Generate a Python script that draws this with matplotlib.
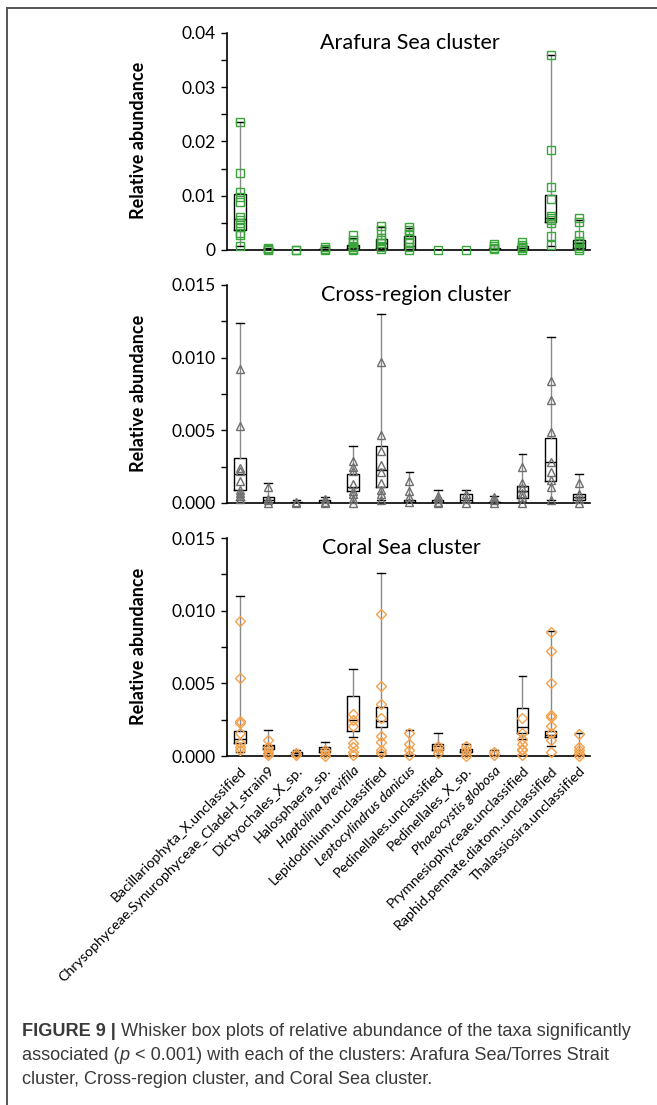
import matplotlib
matplotlib.use('Agg')
import matplotlib.pyplot as plt
from matplotlib.lines import Line2D
from matplotlib.ticker import MultipleLocator, FuncFormatter

taxa = ['Bacillariophyta_X.unclassified', 'Chrysophyceae.Synurophyceae_CladeH_strain9',
        'Dictyochales_X_sp.', 'Halosphaera_sp.', 'Haptolina brevifila',
        'Lepidodinium.unclassified', 'Leptocylindrus danicus', 'Pedinellales.unclassified',
        'Pedinellales_X_sp.', 'Phaeocystis globosa', 'Prymnesiophyceae.unclassified',
        'Raphid.pennate.diatom..unclassified', 'Thalassiosira.unclassified']
italic_taxa = ['Haptolina brevifila', 'Leptocylindrus danicus', 'Phaeocystis globosa']

# Arafura Sea cluster
ara_q1 = [0.0037, 0.0, 0.0, 0.0, 0.0004, 0.0004, 0.0001, 0.0, 0.0, 0.0, 0.0001, 0.0052, 0.0003]
ara_med = [0.0057, 0.0001, 0.0, 0.0001, 0.0007, 0.0013, 0.0007, 0.0, 0.0, 0.0002, 0.0004, 0.0058, 0.0012]
ara_q3 = [0.0103, 0.0002, 0.0, 0.0002, 0.0009, 0.0021, 0.0025, 0.0, 0.0, 0.0004, 0.0007, 0.0101, 0.0019]
ara_lo = [0.0007, 0.0, 0.0, 0.0, 0.0, 0.0001, 0.0, 0.0, 0.0, 0.0, 0.0, 0.0008, 0.0]
ara_hi = [0.0236, 0.0004, 0.0, 0.0005, 0.0022, 0.0042, 0.0040, 0.0, 0.0, 0.0009, 0.0012, 0.0360, 0.0056]
ara_pts = [[0.0236, 0.0141, 0.0106, 0.0098, 0.0088, 0.0060, 0.0055, 0.0049, 0.0043, 0.0031, 0.0028, 0.0007],
           [0.0004, 0.0002, 0.0001, 0.0],
           [0.0, 0.0],
           [0.0005, 0.0002, 0.0],
           [0.0028, 0.0018, 0.0012, 0.0008, 0.0005, 0.0002, 0.0],
           [0.0045, 0.0036, 0.0022, 0.0018, 0.0012, 0.0006, 0.0002],
           [0.0043, 0.0036, 0.0030, 0.0020, 0.0012, 0.0005, 0.0],
           [0.0],
           [0.0],
           [0.0011, 0.0007, 0.0004, 0.0001],
           [0.0014, 0.0010, 0.0006, 0.0003, 0.0],
           [0.0360, 0.0184, 0.0116, 0.0094, 0.0062, 0.0058, 0.0055, 0.0050, 0.0026, 0.0010],
           [0.0059, 0.0052, 0.0028, 0.0017, 0.0012, 0.0008, 0.0004, 0.0]]

# Cross-region cluster
cro_q1 = [0.00087, 0.0, 0.0, 0.0, 0.0008, 0.0011, 0.0, 0.0, 0.0, 0.0, 0.00035, 0.0015, 0.0002]
cro_med = [0.0020, 0.0002, 0.00003, 0.0001, 0.0011, 0.00225, 0.0001, 0.0001, 0.0002, 0.00005, 0.0008, 0.0028, 0.0004]
cro_q3 = [0.0031, 0.0004, 0.0001, 0.0002, 0.0020, 0.0039, 0.0002, 0.0002, 0.0006, 0.0001, 0.0012, 0.0045, 0.0006]
cro_lo = [0.0002, 0.0, 0.0, 0.0, 0.0, 0.0002, 0.0, 0.0, 0.0, 0.0, 0.0, 0.0002, 0.0]
cro_hi = [0.0124, 0.0014, 0.0002, 0.0004, 0.0039, 0.0130, 0.0021, 0.0009, 0.0009, 0.0005, 0.0034, 0.0114, 0.0020]
cro_pts = [[0.0092, 0.0053, 0.0024, 0.0022, 0.0015, 0.0009, 0.0007, 0.0005, 0.0003],
           [0.0011, 0.0003, 0.0002, 0.0],
           [0.0001, 0.0],
           [0.0003, 0.0001, 0.0],
           [0.0029, 0.0025, 0.0022, 0.0013, 0.0008, 0.0006, 0.0003, 0.0],
           [0.0097, 0.0047, 0.0036, 0.0026, 0.0021, 0.0014, 0.0009, 0.0006, 0.0002],
           [0.0015, 0.0008, 0.0004, 0.0001],
           [0.0005, 0.0003, 0.0001, 0.0],
           [0.0006, 0.0003, 0.0],
           [0.0004, 0.0002, 0.0],
           [0.0025, 0.0014, 0.0010, 0.0007, 0.0004, 0.0],
           [0.0084, 0.0071, 0.0049, 0.0028, 0.0021, 0.0016, 0.0011, 0.0002],
           [0.0014, 0.0006, 0.0003, 0.0]]

# Coral Sea cluster
cor_q1 = [0.00087, 0.00046, 0.0001, 0.0003, 0.0017, 0.0020, 0.0, 0.0004, 0.00025, 0.0, 0.0016, 0.0013, 0.0]
cor_med = [0.0012, 0.0007, 0.0002, 0.0005, 0.0025, 0.0024, 0.00003, 0.0007, 0.0004, 0.00002, 0.0020, 0.00145, 0.00005]
cor_q3 = [0.0017, 0.00076, 0.00025, 0.0006, 0.0041, 0.0034, 0.0001, 0.0008, 0.0005, 0.0001, 0.0033, 0.0017, 0.0001]
cor_lo = [0.0003, 0.0002, 0.0, 0.0, 0.0013, 0.0003, 0.0, 0.0001, 0.0, 0.0, 0.0012, 0.0007, 0.0]
cor_hi = [0.0110, 0.0018, 0.0004, 0.00095, 0.0060, 0.0126, 0.0018, 0.0016, 0.0008, 0.0004, 0.0055, 0.0086, 0.0016]
cor_pts = [[0.0093, 0.0054, 0.0024, 0.0023, 0.0016, 0.0009, 0.0006, 0.0004],
           [0.0011, 0.0006, 0.0004, 0.0002, 0.0001],
           [0.0002, 0.0001],
           [0.00045, 0.0002, 0.0],
           [0.0029, 0.0025, 0.0021, 0.0009, 0.0006, 0.0003, 0.0001],
           [0.0098, 0.0048, 0.0036, 0.0026, 0.0014, 0.0010, 0.0004, 0.0002],
           [0.0016, 0.0008, 0.0004, 0.0001],
           [0.0007, 0.0005, 0.0002],
           [0.0007, 0.0004, 0.0002, 0.0],
           [0.0003, 0.0001],
           [0.0026, 0.0016, 0.0012, 0.0008, 0.0005, 0.0004, 0.0001],
           [0.0085, 0.0072, 0.0050, 0.0028, 0.0027, 0.0021, 0.0016, 0.0011, 0.0003],
           [0.0015, 0.0006, 0.0004, 0.0002, 0.0]]

chart_font = ['Lato', 'DejaVu Sans']
plt.rcParams['font.family'] = chart_font

fig = plt.figure(figsize=(6.57, 11.05), dpi=100)

panels = [
    dict(title='Arafura Sea cluster', q1=ara_q1, med=ara_med, q3=ara_q3, lo=ara_lo, hi=ara_hi,
         pts=ara_pts, marker='s', color='#3aa53a', ymax=0.04, major=0.01, minor=0.005,
         fmt='%g', rect=[0.3455, 0.7738, 0.5525, 0.1964], tx=0.504, ty=0.955),
    dict(title='Cross-region cluster', q1=cro_q1, med=cro_med, q3=cro_q3, lo=cro_lo, hi=cro_hi,
         pts=cro_pts, marker='^', color='#6e6e6e', ymax=0.015, major=0.005, minor=0.0025,
         fmt='%.3f', rect=[0.3455, 0.5448, 0.5525, 0.1973], tx=0.52, ty=0.955),
    dict(title='Coral Sea cluster', q1=cor_q1, med=cor_med, q3=cor_q3, lo=cor_lo, hi=cor_hi,
         pts=cor_pts, marker='D', color='#f5a04a', ymax=0.015, major=0.005, minor=0.0025,
         fmt='%.3f', rect=[0.3455, 0.3158, 0.5525, 0.1973], tx=0.48, ty=0.955),
]

xs = list(range(len(taxa)))
for k, p in enumerate(panels):
    ax = fig.add_axes(p['rect'])
    stats = []
    for i in xs:
        stats.append(dict(med=p['med'][i], q1=p['q1'][i], q3=p['q3'][i],
                          whislo=p['lo'][i], whishi=p['hi'][i], fliers=[]))
    ax.bxp(stats, positions=xs, widths=0.4, showfliers=False, capwidths=0.28,
           boxprops=dict(color='black', linewidth=1.0),
           medianprops=dict(color='black', linewidth=1.0),
           whiskerprops=dict(color='#8a8a8a', linewidth=1.0),
           capprops=dict(color='black', linewidth=1.0),
           manage_ticks=False, zorder=2)
    ms = 4.9 if p['marker'] == 'D' else 6.4
    for i in xs:
        vals = p['pts'][i]
        ax.plot([i] * len(vals), vals, linestyle='none', marker=p['marker'], ms=ms,
                mfc='none', mec=p['color'], mew=1.0, clip_on=False, zorder=3)
    ax.set_xlim(-0.46, 12.39)
    ax.set_ylim(0, p['ymax'])
    ax.yaxis.set_major_locator(MultipleLocator(p['major']))
    ax.yaxis.set_minor_locator(MultipleLocator(p['minor']))
    ax.yaxis.set_major_formatter(FuncFormatter(lambda v, pos, f=p['fmt']: f % v))
    ax.tick_params(axis='y', which='both', direction='out', length=4, width=1.0,
                   labelsize=12.5, colors='black', pad=4)
    ax.tick_params(axis='x', length=0)
    for s in ['top', 'right']:
        ax.spines[s].set_visible(False)
    for s in ['left', 'bottom']:
        ax.spines[s].set_linewidth(1.2)
        ax.spines[s].set_color('black')
    ax.set_xticks(xs)
    if k < 2:
        ax.set_xticklabels([])
    else:
        ax.set_xticklabels(taxa, rotation=45, ha='right', va='top', rotation_mode='anchor',
                           fontsize=10.3)
        for lab in ax.get_xticklabels():
            if lab.get_text() in italic_taxa:
                lab.set_style('italic')
        ax.tick_params(axis='x', pad=6)
    ax.text(p['tx'], p['ty'], p['title'], transform=ax.transAxes, ha='center', va='center',
            fontsize=15.5)
    yc = p['rect'][1] + p['rect'][3] / 2 + 0.001
    fig.text(138 / 657, yc, 'Relative abundance', rotation=90, ha='center', va='center',
             fontsize=13, fontweight='bold')

# frame around the figure area
fig.add_artist(Line2D([7 / 657, 7 / 657], [1 - 8 / 1105, 0], transform=fig.transFigure,
                      color='#555555', lw=1.4))
fig.add_artist(Line2D([7 / 657, 1], [1 - 8 / 1105, 1 - 8 / 1105], transform=fig.transFigure,
                      color='#555555', lw=1.4))

# caption, drawn piece by piece so bold/italic runs sit inline
cap_font = ['Liberation Sans', 'DejaVu Sans']
cap_size = 13.1
cap_color = '#3a3a3a'
renderer = fig.canvas.get_renderer()
lines = [
    [('FIGURE 9 |', 'bold', 'normal'),
     (' Whisker box plots of relative abundance of the taxa significantly', 'normal', 'normal')],
    [('associated (', 'normal', 'normal'), ('p', 'normal', 'italic'),
     (' < 0.001) with each of the clusters: Arafura Sea/Torres Strait', 'normal', 'normal')],
    [('cluster, Cross-region cluster, and Coral Sea cluster.', 'normal', 'normal')],
]
line_y = [1031, 1056, 1080]
for parts, yy in zip(lines, line_y):
    x = 22
    for txt, w, st in parts:
        t = fig.text(x / 657, 1 - yy / 1105, txt, ha='left', va='center', family=cap_font,
                     fontsize=cap_size, fontweight=w, style=st, color=cap_color)
        bb = t.get_window_extent(renderer=renderer)
        x = x + bb.width

fig.savefig('out.png', dpi=100)
